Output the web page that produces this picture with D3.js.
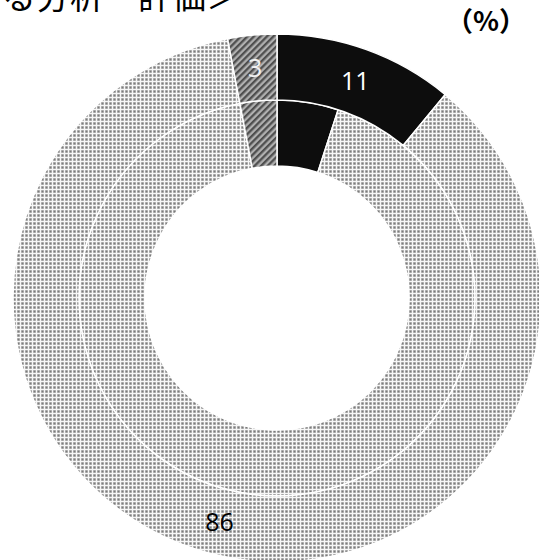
<!DOCTYPE html>
<html>
<head>
<meta charset="utf-8">
<script src="https://cdn.jsdelivr.net/npm/d3@7"></script>
<style>
  html, body { margin: 0; padding: 0; background: #fff; }
  svg { display: block; }
</style>
</head>
<body>
<svg id="chart" width="539" height="560"></svg>
<script>
// Segment keys, in drawing order (clockwise from 12 o'clock)
const segmentKeys = ["black", "dotted", "hatched"];
// Outer ring shares (%)
const outerValues = [11, 86, 3];
// Inner ring shares (%)
const innerValues = [5, 92, 3];
// Label colour for each outer-ring segment
const outerLabelColors = ["#ffffff", "#000000", "#f2f2f2"];
const titleText = "による分析・評価＞";
const unitText = "（%）";

const svg = d3.select("#chart");
const defs = svg.append("defs");

// Dotted grey fill
const dot = defs.append("pattern")
  .attr("id", "dots").attr("patternUnits", "userSpaceOnUse")
  .attr("width", 4).attr("height", 4);
dot.append("rect").attr("width", 4).attr("height", 4).attr("fill", "#f7f7f7");
dot.append("rect").attr("x", 0).attr("y", 0).attr("width", 3).attr("height", 3).attr("fill", "#cbcbcb");
dot.append("rect").attr("x", 0.5).attr("y", 0.5).attr("width", 2).attr("height", 2).attr("fill", "#7c7c7c");

// Diagonal hatch fill
const hatch = defs.append("pattern")
  .attr("id", "hatch").attr("patternUnits", "userSpaceOnUse")
  .attr("width", 4.6).attr("height", 4.6)
  .attr("patternTransform", "rotate(45)");
hatch.append("rect").attr("width", 4.6).attr("height", 4.6).attr("fill", "#b0b0b0");
hatch.append("rect").attr("x", 0).attr("width", 2.3).attr("height", 4.6).attr("fill", "#4f4f4f");

const fills = d3.scaleOrdinal()
  .domain(segmentKeys)
  .range(["#0d0d0d", "url(#dots)", "url(#hatch)"]);

const cx = 277, cy = 298;
const rOuter = 264, rMid = 198, rInner = 132;

const pie = d3.pie().sort(null).value(d => d.value);
const toData = vals => vals.map((v, i) => ({ key: segmentKeys[i], value: v }));

const g = svg.append("g").attr("transform", `translate(${cx},${cy})`);

const outerArc = d3.arc().innerRadius(rMid).outerRadius(rOuter);
const innerArc = d3.arc().innerRadius(rInner).outerRadius(rMid);
const labelArc = d3.arc().innerRadius((rMid + rOuter) / 2).outerRadius((rMid + rOuter) / 2);

g.append("g").selectAll("path")
  .data(pie(toData(innerValues)))
  .join("path")
  .attr("d", innerArc)
  .attr("fill", d => fills(d.data.key))
  .attr("stroke", "#fff").attr("stroke-width", 1.5);

const outerArcs = pie(toData(outerValues));
g.append("g").selectAll("path")
  .data(outerArcs)
  .join("path")
  .attr("d", outerArc)
  .attr("fill", d => fills(d.data.key))
  .attr("stroke", "#fff").attr("stroke-width", 1.5);

g.append("g").selectAll("text")
  .data(outerArcs)
  .join("text")
  .attr("transform", d => `translate(${labelArc.centroid(d)})`)
  .attr("text-anchor", "middle")
  .attr("dy", "0.36em")
  .attr("font-family", "'Open Sans', 'Noto Sans', sans-serif")
  .attr("font-size", 25)
  .attr("fill", (d, i) => outerLabelColors[i])
  .text(d => d.data.value);

// Title (runs above the top edge) and unit note
svg.append("text")
  .attr("x", 240).attr("y", 9)
  .attr("text-anchor", "end")
  .attr("font-family", "'Noto Sans CJK JP', sans-serif")
  .attr("font-size", 34)
  .attr("fill", "#000")
  .text(titleText);

svg.append("text")
  .attr("x", 526).attr("y", 31)
  .attr("text-anchor", "end")
  .attr("font-family", "'Noto Sans CJK JP', sans-serif")
  .attr("font-weight", "bold")
  .attr("font-size", 27)
  .attr("fill", "#000")
  .text(unitText);
</script>
</body>
</html>
